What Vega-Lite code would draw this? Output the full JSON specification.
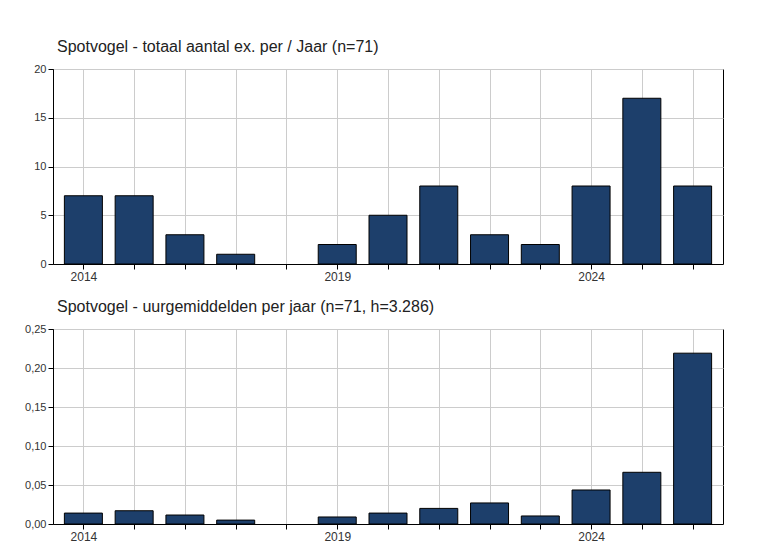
{
  "$schema": "https://vega.github.io/schema/vega-lite/v6.json",
  "background": "white",
  "padding": {"left": 24, "top": 38, "right": 30, "bottom": 5},
  "config": {
    "font": "Liberation Sans",
    "view": {"stroke": "black", "strokeWidth": 1},
    "title": {"fontSize": 16, "fontWeight": "normal", "color": "#222", "anchor": "start", "frame": "group", "offset": 8, "dx": 4},
    "axis": {"labelFontSize": 11, "labelColor": "#333", "gridColor": "#cccccc", "domainColor": "black", "tickColor": "black", "title": null}
  },
  "datasets": {
    "jaren": [
      {"jaar": 2014, "aantal": 7, "uurgem": 0.014},
      {"jaar": 2015, "aantal": 7, "uurgem": 0.017},
      {"jaar": 2016, "aantal": 3, "uurgem": 0.0115},
      {"jaar": 2017, "aantal": 1, "uurgem": 0.005},
      {"jaar": 2018, "aantal": 0, "uurgem": 0},
      {"jaar": 2019, "aantal": 2, "uurgem": 0.009},
      {"jaar": 2020, "aantal": 5, "uurgem": 0.014},
      {"jaar": 2021, "aantal": 8, "uurgem": 0.020},
      {"jaar": 2022, "aantal": 3, "uurgem": 0.027},
      {"jaar": 2023, "aantal": 2, "uurgem": 0.0103},
      {"jaar": 2024, "aantal": 8, "uurgem": 0.0436},
      {"jaar": 2025, "aantal": 17, "uurgem": 0.0663},
      {"jaar": 2026, "aantal": 8, "uurgem": 0.219}
    ]
  },
  "spacing": 15,
  "vconcat": [
    {
      "title": "Spotvogel - totaal aantal ex. per / Jaar (n=71)",
      "width": 670,
      "height": 195,
      "data": {"name": "jaren"},
      "transform": [{"filter": "datum.aantal > 0"}],
      "mark": {"type": "bar", "size": 38, "color": "#1d3f6b", "stroke": "black", "strokeWidth": 1},
      "encoding": {
        "x": {
          "field": "jaar", "type": "quantitative",
          "scale": {"domain": [2013.5, 2026.5], "nice": false, "zero": false},
          "axis": {
            "values": [2014, 2015, 2016, 2017, 2018, 2019, 2020, 2021, 2022, 2023, 2024, 2025, 2026],
            "labelExpr": "(datum.value - 2014) % 5 == 0 ? datum.value : ''",
            "labelFontSize": 12, "labelPadding": 2
          }
        },
        "y": {
          "field": "aantal", "type": "quantitative",
          "scale": {"domain": [0, 20]},
          "axis": {"values": [0, 5, 10, 15, 20]}
        }
      }
    },
    {
      "title": "Spotvogel - uurgemiddelden per jaar (n=71, h=3.286)",
      "width": 670,
      "height": 195,
      "data": {"name": "jaren"},
      "transform": [{"filter": "datum.uurgem > 0"}],
      "mark": {"type": "bar", "size": 38, "color": "#1d3f6b", "stroke": "black", "strokeWidth": 1},
      "encoding": {
        "x": {
          "field": "jaar", "type": "quantitative",
          "scale": {"domain": [2013.5, 2026.5], "nice": false, "zero": false},
          "axis": {
            "values": [2014, 2015, 2016, 2017, 2018, 2019, 2020, 2021, 2022, 2023, 2024, 2025, 2026],
            "labelExpr": "(datum.value - 2014) % 5 == 0 ? datum.value : ''",
            "labelFontSize": 12, "labelPadding": 2
          }
        },
        "y": {
          "field": "uurgem", "type": "quantitative",
          "scale": {"domain": [0, 0.25]},
          "axis": {
            "values": [0, 0.05, 0.1, 0.15, 0.2, 0.25],
            "labelExpr": "replace(format(datum.value, '.2f'), '.', ',')"
          }
        }
      }
    }
  ]
}
